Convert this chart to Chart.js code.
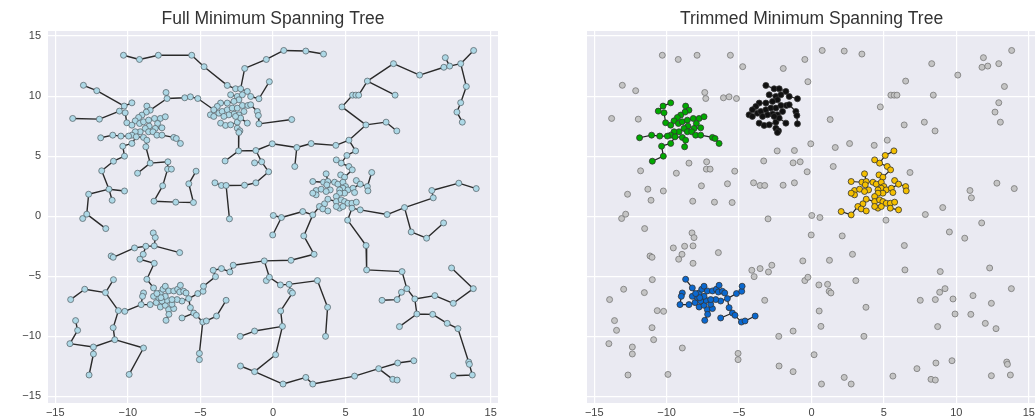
<!DOCTYPE html>
<html>
<head>
    <title>Minimum Spanning Tree</title>
    <script src="https://cdn.jsdelivr.net/npm/chart.js"></script>
    <style>
        body { margin: 0; background: #fff; overflow: hidden; }
        canvas { position: absolute; top: 0; }
    </style>
</head>
<body>
    <canvas id="fullTree" width="518" height="419" style="left:0"></canvas>
    <canvas id="trimmedTree" width="540" height="419" style="left:517px"></canvas>

    <script>
        const tickValues = [-15, -10, -5, 0, 5, 10, 15];

        // points that belong to no cluster (grey on the right)
        const noisePoints = [
            [-10.3,13.4],[-9.2,13.05],[-7.9,13.4],[-5.6,13.4],[-4.75,12.45],[-1.95,12.3],[-0.46,13.05],[0.74,13.8],
            [2.26,13.75],[3.48,13.5],[-0.25,11.2],[-13.06,10.9],[-12.14,10.45],[-7.37,10.3],[-7.3,9.8],[-6.08,9.86],
            [-5.69,9.94],[-5.18,9.8],[-13.8,8.14],[-11.96,8.08],[8.3,12.7],[10.1,11.75],[6.5,11.25],[5.48,10.08],
            [5.71,10.08],[5.9,10.08],[8.41,10.08],[4.75,9.1],[1.29,8.05],[6.4,7.6],[7.79,7.83],[8.53,7.1],
            [11.87,13.2],[11.77,12.4],[12.17,12.5],[12.93,12.7],[13.82,13.8],[13.32,10.8],[12.93,9.45],[12.67,8.67],
            [13.04,7.83],[-0.05,6.03],[1.64,5.72],[2.63,6.05],[4.33,5.9],[5.23,6.33],[-2.37,5.44],[-1.18,5.47],
            [-3.3,4.6],[-1.27,4.44],[-0.78,4.53],[-0.3,3.7],[1.5,4.14],[6.8,3.64],[-11.8,3.78],[-8.46,4.42],
            [-7.24,4.53],[-7.26,3.92],[-7.0,3.92],[-9.33,3.58],[-5.3,3.75],[-4.0,2.78],[-3.55,2.56],[-3.23,2.56],
            [-1.96,2.58],[-1.18,2.78],[-5.8,2.7],[-7.6,2.53],[-11.3,2.25],[-10.23,2.1],[-12.7,1.83],[-11.08,1.33],
            [-8.2,1.25],[-6.7,1.17],[-5.48,1.14],[12.8,2.75],[14.0,2.3],[10.94,2.14],[11.04,1.53],[9.06,0.72],
            [-13.11,-0.19],[-12.83,0.17],[-11.52,-1.03],[-8.25,-1.39],[-8.11,-1.78],[-9.54,-2.64],[-8.76,-2.5],[-8.18,-2.47],
            [-8.94,-3.17],[-9.17,-3.58],[-11.15,-3.31],[-11.01,-3.42],[-8.18,-3.92],[-6.43,-3.03],[-3.0,-0.22],[0.02,0.06],
            [0.58,-0.11],[-0.02,-1.56],[2.12,-1.64],[1.24,-3.67],[2.83,-3.17],[-0.6,-3.72],[5.14,-0.33],[7.86,0.14],
            [6.41,-2.44],[6.45,-4.47],[9.52,-1.31],[10.58,-1.83],[11.75,-0.56],[12.3,-4.31],[8.89,-4.61],[-4.12,-4.5],
            [-3.55,-4.36],[-2.97,-4.64],[-2.74,-4.08],[-3.96,-5.03],[-0.46,-5.36],[-0.25,-5.08],[0.51,-5.72],[1.11,-5.67],
            [1.22,-6.25],[1.34,-6.39],[3.06,-5.36],[-10.99,-5.28],[-12.97,-6.08],[-11.54,-6.36],[-13.94,-6.94],[-10.65,-7.86],
            [-10.21,-7.92],[-13.6,-8.69],[-13.46,-9.5],[-11.01,-9.28],[-10.9,-10.28],[-13.99,-10.61],[-12.37,-10.89],[-12.37,-11.47],
            [-8.92,-10.97],[-12.67,-13.22],[-9.91,-13.17],[-5.07,-11.42],[-5.07,-11.94],[-3.23,-7.0],[0.53,-7.89],[0.65,-9.17],
            [3.76,-7.58],[3.62,-10.0],[-2.26,-10.0],[-1.27,-9.56],[0.18,-11.53],[-2.24,-12.47],[-1.27,-12.94],[0.69,-13.97],
            [2.26,-13.42],[2.74,-13.97],[5.62,-13.31],[7.28,-12.69],[8.25,-13.58],[8.55,-13.64],[8.59,-12.22],[9.7,-12.03],
            [7.51,-7.0],[8.55,-6.94],[8.85,-6.33],[9.22,-6.03],[9.77,-6.89],[9.91,-8.14],[8.71,-9.19],[11.0,-8.17],
            [11.15,-6.61],[12.42,-7.25],[12.0,-8.92],[12.74,-9.36],[13.8,-6.03],[13.48,-12.14],[13.53,-12.33],[12.42,-13.28],
            [13.73,-13.22]
        ];

        const greenCluster = [
            [-9.72,9.44],[-10.25,9.17],[-10.58,8.75],[-10.18,8.61],[-8.69,9.17],[-8.46,8.83],[-8.73,8.67],[-9.03,8.42],
            [-9.26,8.22],[-9.49,7.94],[-10.07,7.78],[-9.72,7.58],[-9.19,7.72],[-8.92,7.86],[-8.57,8.0],[-8.16,8.14],
            [-7.76,8.14],[-7.42,8.28],[-7.95,7.72],[-7.65,7.36],[-8.11,7.31],[-8.53,7.5],[-8.8,7.31],[-8.57,7.03],
            [-8.27,7.03],[-8.0,6.75],[-7.65,6.75],[-9.15,7.03],[-9.49,7.03],[-9.72,6.75],[-9.95,6.67],[-10.48,6.67],
            [-11.04,6.75],[-11.87,6.53],[-8.92,6.56],[-8.69,6.33],[-8.76,5.78],[-9.42,6.61],[-9.72,6.06],[-10.35,5.83],
            [-10.23,5.0],[-10.99,4.58],[-6.84,6.56],[-6.38,6.06],[-6.66,6.47]
        ];

        const blackCluster = [
            [-3.15,10.89],[-2.58,10.61],[-2.23,10.61],[-1.77,10.39],[-1.54,9.97],[-0.97,9.78],[-2.92,10.11],[-2.46,9.97],
            [-2.11,10.11],[-2.35,9.69],[-2.69,9.56],[-3.15,9.42],[-3.61,9.42],[-3.84,9.14],[-4.08,8.86],[-4.31,8.44],
            [-4.08,8.31],[-3.73,8.58],[-3.5,8.72],[-3.15,8.86],[-2.81,9.0],[-2.46,9.0],[-2.11,9.22],[-1.73,9.22],
            [-2.0,8.72],[-2.35,8.44],[-2.69,8.5],[-3.04,8.44],[-3.38,8.31],[-3.61,7.75],[-3.27,7.56],[-2.92,7.61],
            [-2.46,7.83],[-2.23,8.17],[-2.46,7.33],[-2.28,7.11],[-2.35,6.97],[-1.77,7.75],[-1.08,8.72],[-1.01,8.39],
            [-0.97,7.69],[-1.54,9.28],[-2.58,8.31]
        ];

        const yellowCluster = [
            [5.69,5.44],[5.09,5.06],[4.7,4.42],[4.36,4.69],[5.23,4.14],[5.46,3.86],[4.66,3.44],[4.93,3.25],
            [3.66,3.53],[3.48,2.83],[3.78,2.89],[4.24,2.83],[4.47,2.67],[2.74,2.89],[2.97,2.14],[3.32,2.25],
            [3.71,2.61],[3.94,2.19],[4.82,2.83],[5.0,2.47],[4.82,2.33],[4.59,2.19],[5.16,2.19],[5.51,2.33],
            [5.74,2.97],[6.01,2.67],[6.5,2.47],[6.54,2.11],[5.62,1.97],[4.93,1.92],[4.59,1.92],[4.36,1.64],
            [2.97,1.78],[2.74,1.92],[3.66,2.06],[3.78,1.42],[3.55,1.03],[3.2,0.81],[3.43,0.61],[3.78,0.44],
            [2.05,0.39],[2.74,0.11],[4.36,1.22],[4.7,1.36],[4.93,1.22],[5.16,1.08],[5.44,1.08],[5.74,1.17],
            [5.44,0.67],[6.01,0.53],[4.59,0.67],[4.82,0.81],[4.36,0.81]
        ];

        const blueCluster = [
            [-8.69,-5.25],[-8.23,-5.97],[-8.92,-6.39],[-8.99,-6.67],[-9.08,-7.36],[-8.46,-7.36],[-8.04,-7.19],[-7.76,-7.56],
            [-7.42,-7.42],[-7.19,-7.78],[-7.37,-8.67],[-7.17,-8.17],[-6.84,-7.69],[-6.96,-7.33],[-7.3,-7.0],[-7.65,-7.06],
            [-7.88,-6.78],[-7.76,-6.39],[-7.58,-6.08],[-7.42,-5.83],[-7.19,-6.22],[-6.84,-6.22],[-6.57,-6.08],[-6.38,-5.75],
            [-6.43,-6.31],[-6.15,-6.25],[-5.99,-6.39],[-6.27,-7.06],[-6.61,-6.94],[-6.96,-6.94],[-7.42,-6.67],[-7.72,-6.78],
            [-5.81,-6.86],[-5.69,-7.61],[-5.46,-8.06],[-5.28,-8.25],[-4.84,-8.81],[-4.59,-8.72],[-3.89,-8.31],[-6.27,-8.47],
            [-5.18,-6.44],[-4.82,-6.25],[-4.79,-5.83],[-8.23,-6.67],[-8.0,-6.44]
        ];

        const clusterColors = ['#00aa00', '#111111', '#f5c000', '#0a68d0'];

        function toXY(list) {
            return list.map(p => ({ x: p[0], y: p[1] }));
        }

        // Prim's algorithm, euclidean distance
        function mstEdges(pts) {
            const n = pts.length;
            const inTree = new Array(n).fill(false);
            const best = new Array(n).fill(Infinity);
            const from = new Array(n).fill(-1);
            const edges = [];
            best[0] = 0;
            for (let k = 0; k < n; k++) {
                let u = -1;
                for (let i = 0; i < n; i++) {
                    if (!inTree[i] && (u < 0 || best[i] < best[u])) u = i;
                }
                inTree[u] = true;
                if (from[u] >= 0) edges.push([from[u], u]);
                for (let v = 0; v < n; v++) {
                    if (inTree[v]) continue;
                    const d = Math.hypot(pts[u][0] - pts[v][0], pts[u][1] - pts[v][1]);
                    if (d < best[v]) { best[v] = d; from[v] = u; }
                }
            }
            return edges;
        }

        function edgeLine(pts) {
            const out = [];
            mstEdges(pts).forEach(([a, b]) => {
                out.push({ x: pts[a][0], y: pts[a][1] });
                out.push({ x: pts[b][0], y: pts[b][1] });
                out.push({ x: NaN, y: NaN });
            });
            return out;
        }

        const fontFamily = 'Liberation Sans, Arial, sans-serif';

        const background = {
            id: 'background',
            beforeDraw(chart) {
                const { ctx, chartArea: a } = chart;
                ctx.save();
                ctx.fillStyle = '#eaeaf2';
                ctx.fillRect(a.left, a.top, a.right - a.left, a.bottom - a.top);
                ctx.restore();
            }
        };

        // title centred over the plot area rather than the canvas
        const axesTitle = {
            id: 'axesTitle',
            afterDraw(chart, args, opts) {
                const { ctx, chartArea: a } = chart;
                ctx.save();
                ctx.fillStyle = '#333333';
                ctx.font = '17.5px ' + fontFamily;
                ctx.textAlign = 'center';
                ctx.textBaseline = 'middle';
                ctx.fillText(opts.text, (a.left + a.right) / 2, 19);
                ctx.restore();
            }
        };

        const minusLabel = v => (v < 0 ? '\u2212' + Math.abs(v) : '' + v);
        const fixedTicks = s => { s.ticks = tickValues.map(v => ({ value: v })); };

        function options(title, yWidth, rightPad, showY) {
            return {
                responsive: false,
                animation: false,
                layout: { padding: { left: 0, right: rightPad, top: 31, bottom: 0 } },
                plugins: {
                    legend: { display: false },
                    tooltip: { enabled: false },
                    title: { display: false },
                    axesTitle: { text: title }
                },
                scales: {
                    x: {
                        type: 'linear',
                        min: -15.5,
                        max: 15.5,
                        afterBuildTicks: fixedTicks,
                        afterFit: s => { s.height = 16; },
                        grid: { color: '#ffffff', lineWidth: 1.2, drawTicks: false },
                        border: { display: false },
                        ticks: {
                            padding: 3,
                            color: '#444444',
                            font: { family: fontFamily, size: 11 },
                            callback: minusLabel
                        }
                    },
                    y: {
                        type: 'linear',
                        min: -15.55,
                        max: 15.42,
                        afterBuildTicks: fixedTicks,
                        afterFit: s => { s.width = yWidth; },
                        grid: { color: '#ffffff', lineWidth: 1.2, drawTicks: false },
                        border: { display: false },
                        ticks: {
                            display: showY,
                            padding: 7,
                            color: '#444444',
                            font: { family: fontFamily, size: 11 },
                            callback: minusLabel
                        }
                    }
                }
            };
        }

        const clusters = [greenCluster, blackCluster, yellowCluster, blueCluster];
        const allPoints = noisePoints.concat(...clusters);

        new Chart(document.getElementById('fullTree').getContext('2d'), {
            type: 'scatter',
            data: {
                datasets: [{
                    data: toXY(allPoints),
                    pointRadius: 3,
                    pointBorderWidth: 0.8,
                    pointBackgroundColor: '#add8e6',
                    pointBorderColor: '#5c6a70',
                    order: 0
                }, {
                    data: edgeLine(allPoints),
                    showLine: true,
                    spanGaps: false,
                    borderColor: '#2a2a2a',
                    borderWidth: 1.4,
                    pointRadius: 0,
                    order: 1
                }]
            },
            options: options('Full Minimum Spanning Tree', 48, 20, true),
            plugins: [background, axesTitle]
        });

        const trimmedSets = [{
            data: toXY(noisePoints),
            pointRadius: 3,
            pointBorderWidth: 0.8,
            pointBackgroundColor: '#c4c4c4',
            pointBorderColor: '#777777',
            order: 0
        }];
        clusters.forEach((c, i) => {
            trimmedSets.push({
                data: toXY(c),
                pointRadius: 3,
                pointBorderWidth: 0.8,
                pointBackgroundColor: clusterColors[i],
                pointBorderColor: '#333333',
                order: 0
            });
            trimmedSets.push({
                data: edgeLine(c),
                showLine: true,
                spanGaps: false,
                borderColor: '#222222',
                borderWidth: 1.2,
                pointRadius: 0,
                order: 1
            });
        });

        // plot area runs to the right edge of the window, as in the reference
        new Chart(document.getElementById('trimmedTree').getContext('2d'), {
            type: 'scatter',
            data: { datasets: trimmedSets },
            options: options('Trimmed Minimum Spanning Tree', 70, 21, false),
            plugins: [background, axesTitle]
        });
    </script>
</body>
</html>
